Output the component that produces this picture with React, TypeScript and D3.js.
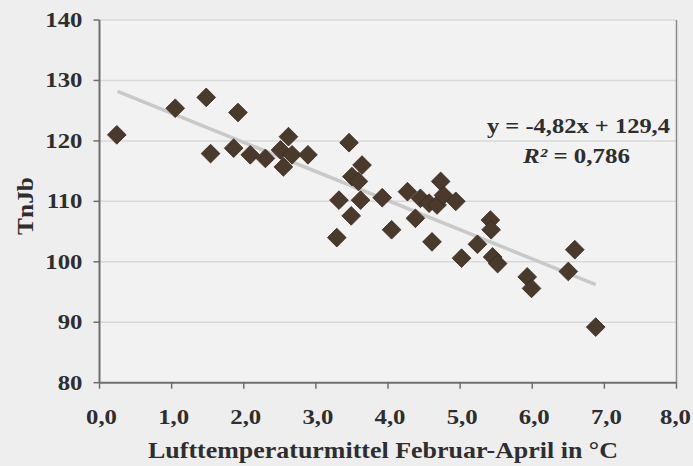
import React from "react";
import * as d3 from "d3";

const xValues = [0.24, 1.05, 1.48, 1.92, 1.54, 1.86, 2.09, 2.30, 2.51, 2.62, 2.67, 2.55, 2.89, 3.46, 3.64, 3.50, 3.59, 3.32, 3.62, 3.49, 3.29, 3.92, 4.05, 4.27, 4.45, 4.57, 4.68, 4.38, 4.61, 4.73, 4.77, 4.94, 5.02, 5.42, 5.43, 5.24, 5.45, 5.52, 5.93, 5.99, 6.59, 6.50, 6.88];
const yValues = [121.0, 125.4, 127.2, 124.7, 117.9, 118.8, 117.7, 117.1, 118.5, 120.7, 117.7, 115.7, 117.7, 119.7, 116.0, 114.1, 113.3, 110.2, 110.2, 107.6, 104.0, 110.6, 105.3, 111.6, 110.5, 109.7, 109.4, 107.2, 103.3, 113.3, 111.0, 110.0, 100.6, 106.9, 105.3, 102.9, 100.8, 99.7, 97.5, 95.6, 102.0, 98.4, 89.2];
const xTicks = [0, 1, 2, 3, 4, 5, 6, 7, 8];
const yTicks = [80, 90, 100, 110, 120, 130, 140];
const slope = -4.82;
const intercept = 129.4;
const trendRange = [0.25, 6.88];
const xTitle = "Lufttemperaturmittel Februar-April in °C";
const yTitle = "TnJb";
const eqText = "y = -4,82x + 129,4";
const r2Value = " = 0,786";

const W = 693;
const H = 466;
const left = 99.5;
const right = 676.5;
const top = 20;
const bottom = 382.7;
const font = "'Liberation Serif', 'Times New Roman', Times, serif";
const textColor = "#2e2e2e";
const sx = 1.18;

export default function App() {
  const x = d3.scaleLinear().domain([0, 8]).range([left, right]);
  const y = d3.scaleLinear().domain([80, 140]).range([bottom, top]);
  const fmt = (v: number) => d3.format(".1f")(v).replace(".", ",");
  const diamond = d3.symbol().type(d3.symbolSquare).size(175)();
  const trend = d3.line<number>().x((d) => x(d)).y((d) => y(slope * d + intercept))(trendRange);

  return (
    <svg width={W} height={H} style={{ position: "absolute", left: 0, top: 0, background: "#efefef" }}>
      <rect x={0} y={0} width={W} height={H} fill="#eeeeee" />
      <rect x={left} y={top} width={right - left} height={bottom - top} fill="#f2f2f2" />
      {yTicks.filter((t) => t > 80).map((t) => (
        <line key={"g" + t} x1={left} x2={right} y1={y(t)} y2={y(t)} stroke="#d9d9d9" strokeWidth={1.5} />
      ))}
      <line x1={right} x2={right} y1={top} y2={bottom} stroke="#8a8a8a" strokeWidth={1.5} />
      <line x1={left} x2={left} y1={top} y2={bottom} stroke="#6e6e6e" strokeWidth={2} />
      <line x1={left} x2={right} y1={bottom} y2={bottom} stroke="#6e6e6e" strokeWidth={2} />
      {yTicks.map((t) => (
        <g key={"y" + t}>
          <line x1={left - 6} x2={left} y1={y(t)} y2={y(t)} stroke="#6e6e6e" strokeWidth={1.5} />
          <text
            transform={`translate(${left - 17},${y(t) + 7}) scale(${sx},1)`}
            textAnchor="end"
            fontFamily={font}
            fontWeight="bold"
            fontSize={21}
            fill={textColor}
          >
            {t}
          </text>
        </g>
      ))}
      {xTicks.map((t) => (
        <g key={"x" + t}>
          <line x1={x(t)} x2={x(t)} y1={bottom} y2={bottom + 6} stroke="#6e6e6e" strokeWidth={1.5} />
          <text
            transform={`translate(${t === 8 ? x(t) - 1 : x(t) + 2},${424}) scale(${sx},1)`}
            textAnchor="middle"
            fontFamily={font}
            fontWeight="bold"
            fontSize={21}
            fill={textColor}
          >
            {fmt(t)}
          </text>
        </g>
      ))}
      <text
        x={383}
        y={458}
        textAnchor="middle"
        fontFamily={font}
        fontWeight="bold"
        fontSize={23}
        fill={textColor}
        textLength={470}
        lengthAdjust="spacingAndGlyphs"
      >
        {xTitle}
      </text>
      <text
        transform={`translate(33,206) rotate(-90)`}
        textAnchor="middle"
        fontFamily={font}
        fontWeight="bold"
        fontSize={23}
        fill={textColor}
        textLength={58}
        lengthAdjust="spacingAndGlyphs"
      >
        {yTitle}
      </text>
      <path d={trend || ""} stroke="#c9c9c9" strokeWidth={3.5} fill="none" />
      {xValues.map((v, i) => (
        <path
          key={"p" + i}
          d={diamond || ""}
          transform={`translate(${x(v)},${y(yValues[i])}) rotate(45)`}
          fill="#4a3a2c"
          stroke="#3a2c20"
          strokeWidth={0.8}
        />
      ))}
      <text
        x={670}
        y={133}
        textAnchor="end"
        fontFamily={font}
        fontWeight="bold"
        fontSize={21}
        fill={textColor}
        textLength={183}
        lengthAdjust="spacingAndGlyphs"
      >
        {eqText}
      </text>
      <text
        x={523}
        y={163}
        textAnchor="start"
        fontFamily={font}
        fontWeight="bold"
        fontSize={21}
        fill={textColor}
        textLength={107}
        lengthAdjust="spacingAndGlyphs"
      >
        <tspan fontStyle="italic">R²</tspan>
        <tspan>{r2Value}</tspan>
      </text>
    </svg>
  );
}
